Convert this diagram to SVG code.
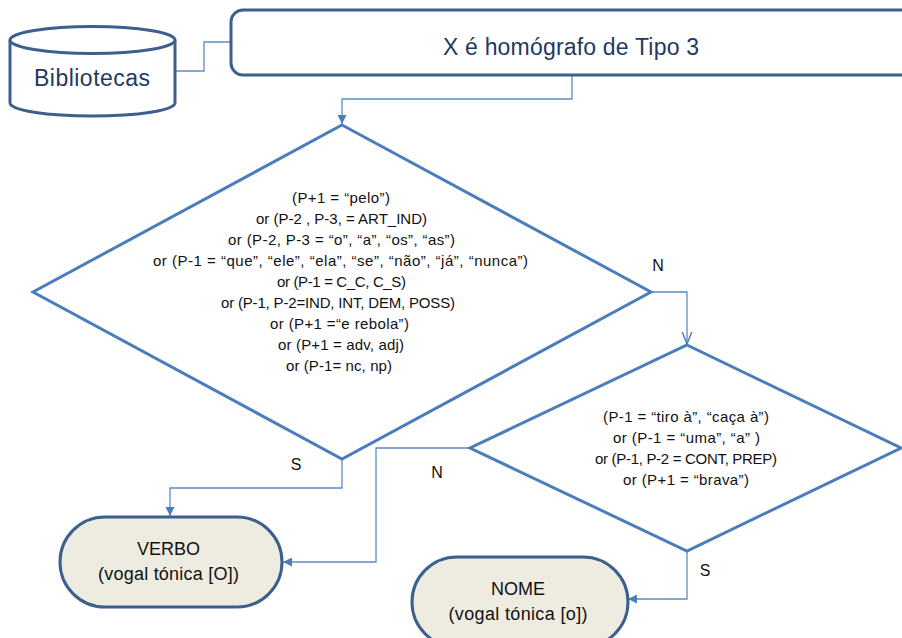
<svg xmlns="http://www.w3.org/2000/svg" width="902" height="638" viewBox="0 0 902 638">
  <defs>
    <style>
      .box { fill: #ffffff; stroke: #3C5F8E; stroke-width: 3; }
      .term { fill: #EEECE1; stroke: #3C5F8E; stroke-width: 3; }
      .dec { fill: #ffffff; stroke: #4A7EBB; stroke-width: 3; stroke-linejoin: miter; }
      .wire { fill: none; stroke: #5C8CC6; stroke-width: 1.3; }
      .big { font-family: "Liberation Sans", Arial, sans-serif; font-size: 23px; fill: #1F3A60; text-anchor: middle; }
      .cond { font-family: "Liberation Sans", Arial, sans-serif; font-size: 15px; fill: #111111; text-anchor: middle; }
      .tt { font-family: "Liberation Sans", Arial, sans-serif; font-size: 18px; fill: #111111; text-anchor: middle; }
      .lbl { font-family: "Liberation Sans", Arial, sans-serif; font-size: 16px; fill: #111111; text-anchor: middle; }
    </style>
    <marker id="arrow" viewBox="0 0 10 10" refX="10" refY="5" markerWidth="9" markerHeight="9" markerUnits="userSpaceOnUse" orient="auto">
      <path d="M0,0 L10,5 L0,10 Z" fill="#4A7EBB"/>
    </marker>
    <marker id="vee" viewBox="0 0 10 10" refX="10" refY="5" markerWidth="12" markerHeight="12" markerUnits="userSpaceOnUse" orient="auto">
      <path d="M0,1 L10,5 L0,9" fill="none" stroke="#4A7EBB" stroke-width="1.2"/>
    </marker>
  </defs>

  <!-- connectors -->
  <g id="connectors">
    <polyline class="wire" points="175,71 204,71 204,42 231,42"/>
    <polyline class="wire" points="572,75 572,99 342,99 342,124" marker-end="url(#arrow)"/>
    <polyline class="wire" points="651,292 687,292 687,344" marker-end="url(#vee)"/>
    <polyline class="wire" points="342,459 342,488 170,488 170,516" marker-end="url(#arrow)"/>
    <polyline class="wire" points="470,448 376,448 376,562 283,562" marker-end="url(#arrow)"/>
    <polyline class="wire" points="687,551 687,599 628,599" marker-end="url(#arrow)"/>
    <text class="lbl" x="658" y="271">N</text>
    <text class="lbl" x="296" y="470">S</text>
    <text class="lbl" x="437" y="478">N</text>
    <text class="lbl" x="705" y="576">S</text>
  </g>

  <!-- data store -->
  <g id="bibliotecas">
    <path class="box" d="M10,40 L10,103 A82.5,13 0 0 0 175,103 L175,40"/>
    <ellipse class="box" cx="92.5" cy="40" rx="82.5" ry="13.5"/>
    <text class="big" x="92" y="86" textLength="116">Bibliotecas</text>
  </g>

  <!-- start process -->
  <g id="tipo3">
    <rect class="box" x="231" y="10" width="700" height="65" rx="12" ry="12"/>
    <text class="big" x="571" y="55" textLength="256">X é homógrafo de Tipo 3</text>
  </g>

  <!-- first decision -->
  <g id="decisao1">
    <polygon class="dec" points="342,125 651,292 342,459 33,292"/>
    <text class="cond" x="341" y="203" textLength="98">(P+1 = “pelo”)</text>
    <text class="cond" x="341.5" y="224" textLength="171">or (P-2 , P-3, = ART_IND)</text>
    <text class="cond" x="341.5" y="245" textLength="227">or (P-2, P-3 = “o”, “a”, “os”, “as”)</text>
    <text class="cond" x="340.5" y="266" textLength="375">or (P-1 = “que”, “ele”, “ela”, “se”, “não”, “já”, “nunca”)</text>
    <text class="cond" x="341.5" y="287" textLength="129">or (P-1 = C_C, C_S)</text>
    <text class="cond" x="338" y="308" textLength="234">or (P-1, P-2=IND, INT, DEM, POSS)</text>
    <text class="cond" x="339.5" y="329" textLength="139">or (P+1 =“e rebola”)</text>
    <text class="cond" x="341" y="350" textLength="126">or (P+1 = adv, adj)</text>
    <text class="cond" x="339" y="371" textLength="106">or (P-1= nc, np)</text>
  </g>

  <!-- second decision -->
  <g id="decisao2">
    <polygon class="dec" points="687,345 901,448 687,551 470,448"/>
    <text class="cond" x="686" y="422" textLength="166">(P-1 = “tiro à”, “caça à”)</text>
    <text class="cond" x="686.5" y="443" textLength="147">or (P-1 = “uma”, “a” )</text>
    <text class="cond" x="686" y="464" textLength="182">or (P-1, P-2 = CONT, PREP)</text>
    <text class="cond" x="686" y="485" textLength="126">or (P+1 = “brava”)</text>
  </g>

  <!-- terminals -->
  <g id="verbo">
    <rect class="term" x="60" y="517" width="222" height="90" rx="45" ry="45"/>
    <text class="tt" x="168.5" y="555">VERBO</text>
    <text class="tt" x="168.5" y="580" textLength="141">(vogal tónica [O])</text>
  </g>

  <g id="nome">
    <rect class="term" x="412" y="557" width="216" height="90" rx="45" ry="45"/>
    <text class="tt" x="518" y="595">NOME</text>
    <text class="tt" x="518" y="620" textLength="139">(vogal tónica [o])</text>
  </g>
</svg>
